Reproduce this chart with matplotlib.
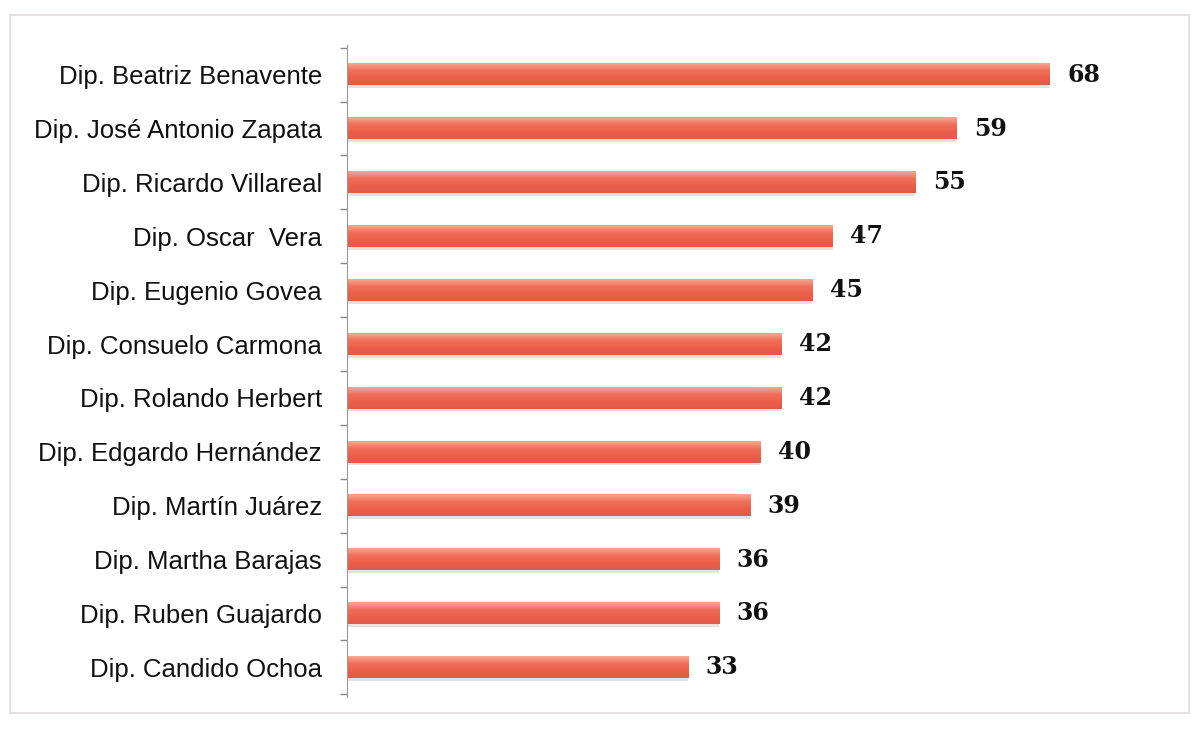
import numpy as np
import matplotlib.pyplot as plt
from matplotlib.colors import LinearSegmentedColormap
from matplotlib.patches import Rectangle

names = ['Dip. Beatriz Benavente', 'Dip. José Antonio Zapata', 'Dip. Ricardo Villareal',
         'Dip. Oscar  Vera', 'Dip. Eugenio Govea', 'Dip. Consuelo Carmona',
         'Dip. Rolando Herbert', 'Dip. Edgardo Hernández', 'Dip. Martín Juárez',
         'Dip. Martha Barajas', 'Dip. Ruben Guajardo', 'Dip. Candido Ochoa']
values = [68, 59, 55, 47, 45, 42, 42, 40, 39, 36, 36, 33]

fig = plt.figure(figsize=(11.99, 7.29), dpi=100)
fig.patches.append(Rectangle((0.008, 0.022), 0.984, 0.958, transform=fig.transFigure,
                             fill=False, edgecolor='#e4dcdc', linewidth=1.2))
ax = fig.add_axes([0.2894, 0.0439, 0.6922, 0.8944])

# vertical gradient for the bars (light top, deeper bottom)
cmap = LinearSegmentedColormap.from_list('bar', ['#f7a890', '#f0705a', '#ec5f4a', '#e05a48'])
grad = np.linspace(0, 1, 64).reshape(-1, 1)
h = 0.4
ypos = np.arange(len(names))[::-1]
for y, v in zip(ypos, values):
    # soft shadow
    ax.add_patch(Rectangle((0, y - h / 2 - 0.05), v, 0.07, color='#d8d0cc', alpha=0.6, lw=0))
    ax.imshow(grad, cmap=cmap, aspect='auto', extent=[0, v, y - h / 2, y + h / 2],
              origin='upper', zorder=2)
    ax.text(v + 1.7, y, str(v), va='center', ha='left', fontsize=17,
            fontweight='bold', family='DejaVu Serif', color='#111111')

ax.set_xlim(0, 80.3)
ax.set_ylim(-0.55, len(names) - 0.45)
ax.set_yticks(ypos)
ax.set_yticklabels(names, family='Liberation Sans', fontsize=18.5, color='#111111')
ax.tick_params(axis='y', which='major', length=0, pad=18)
ax.set_yticks(np.arange(-0.5, len(names), 1), minor=True)
ax.tick_params(axis='y', which='minor', length=5, color='#888888', width=1)
ax.set_xticks([])
for s in ['top', 'right', 'bottom']:
    ax.spines[s].set_visible(False)
ax.spines['left'].set_color('#999999')

fig.savefig('out.png', dpi=100)
